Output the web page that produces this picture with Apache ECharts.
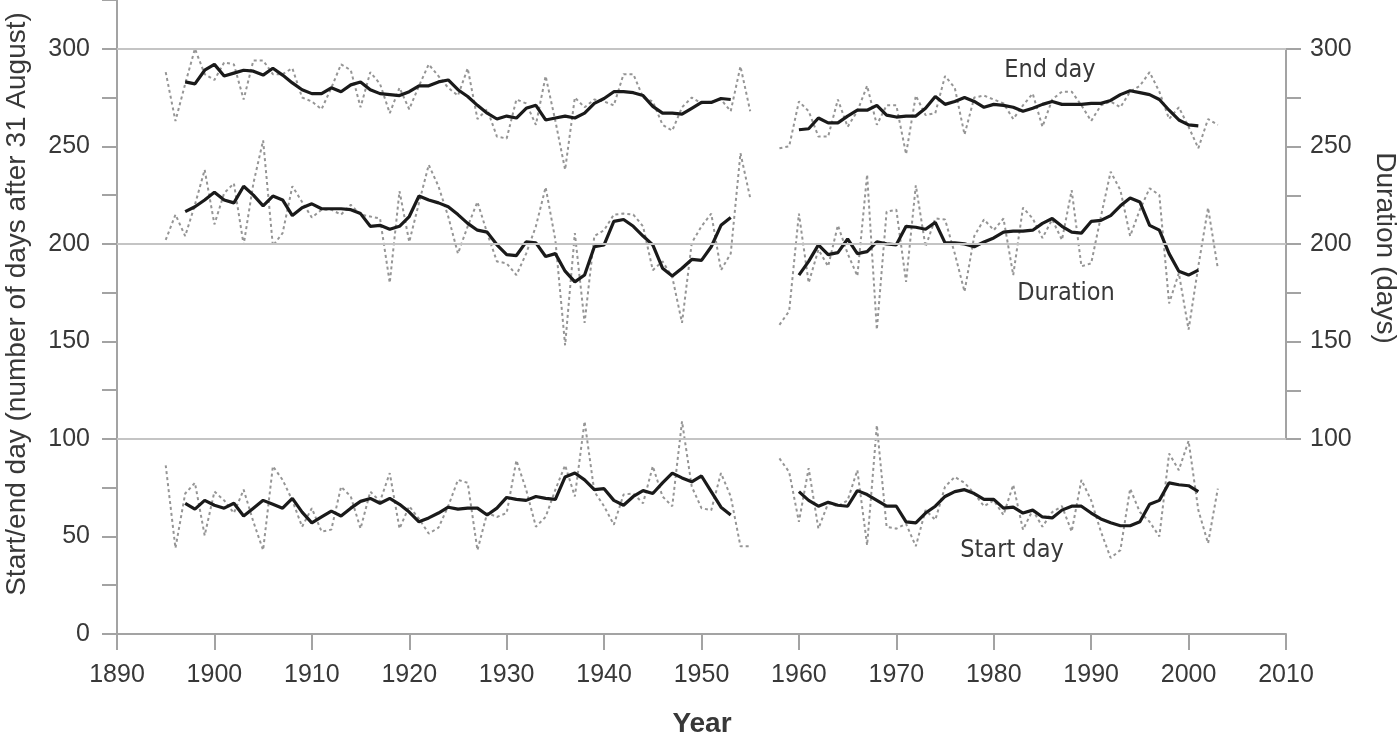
<!DOCTYPE html>
<html>
<head>
<meta charset="utf-8">
<script src="https://cdn.jsdelivr.net/npm/echarts@6/dist/echarts.min.js"></script>
<style>html,body{margin:0;padding:0;background:#fff}#c{width:1400px;height:735px}</style>
</head>
<body>
<div id="c"></div>
<script>
const years = [1895,1896,1897,1898,1899,1900,1901,1902,1903,1904,1905,1906,1907,1908,1909,1910,1911,1912,1913,1914,
1915,1916,1917,1918,1919,1920,1921,1922,1923,1924,1925,1926,1927,1928,1929,1930,1931,1932,1933,1934,
1935,1936,1937,1938,1939,1940,1941,1942,1943,1944,1945,1946,1947,1948,1949,1950,1951,1952,1953,1954,
1955,1956,1957,1958,1959,1960,1961,1962,1963,1964,1965,1966,1967,1968,1969,1970,1971,1972,1973,1974,
1975,1976,1977,1978,1979,1980,1981,1982,1983,1984,1985,1986,1987,1988,1989,1990,1991,1992,1993,1994,
1995,1996,1997,1998,1999,2000,2001,2002,2003];

const endAnnual = [288,263,282,300,287,284,293,292,274,294,
294,287,287,290,275,273,269,280,292,289,
270,288,282,267,280,269,281,292,286,280,
276,290,264,269,255,254,274,272,261,286,
263,238,275,270,274,273,271,287,287,275,
273,261,258,270,275,272,273,274,268,291,
268,null,null,
249,250,273,268,255,255,274,260,268,281,
261,271,271,246,276,266,267,286,280,256,
275,276,274,272,264,271,277,260,274,278,
278,271,263,271,273,270,278,281,288,278,
264,270,260,249,264,261];

const endSmooth = [null,null,283,282,289,292,286,287.5,289,288.5,
286.5,290,286.5,282.5,279,277,277,280,278,281.5,
283,279,277,276.5,276,278,281,281,283,284,
279,275.5,271,267,264,265.5,264.5,269.5,271,263.5,
264.5,265.5,264.5,267,272,274.5,278,278,277.5,276,
270.5,267,267,266.5,269.5,272.5,272.5,274.5,274,null,
null,null,null,null,null,
258.5,259,264.5,262,262,265.5,268.5,268.5,271,266,
265,265.5,265.5,269.5,275.5,271.5,273,275,273,270,
271.5,271,270,268,269.5,271.5,273,271.5,271.5,271.5,
272,272,273.5,276.5,278.5,277.5,276.5,274,268.5,263.5,
261,260.5,null,null];

const durAnnual = [202,215,204,220,238,210,226,231,199.5,231,
253,199,205.5,229.5,221.5,213.5,217.5,217.5,215,220,
215,214,213,180,227,201,221,240.5,229.5,214,
195,209,221.5,205.5,191,190,184,195,209,229,
202,148,205.5,159.5,204,207,215,215.5,215,209,
186.5,191,183,159.5,200.5,209,215.5,186.5,195,246.5,
223.5,null,null,
158.5,165.5,215.5,180,197,188.5,209.5,195,183.5,235.5,
156,216.5,217.5,180.5,230,198.5,213,212.5,195,175.5,
204,212.5,207,213,184,218.5,213,203,212.5,202,
227.5,188.5,190,214,237,227.5,204,217.5,228.5,225,
169.5,185,156,188.5,218.5,187.5];

const durSmooth = [null,null,216.5,219,222.5,226.5,222.5,221,229.5,225,
219.5,224.5,222.5,214.5,218.5,220.5,218,218,218,217.5,
215.5,209,209.5,207.5,209,214,224.5,222.5,221,219,
215,210.5,207,206,199.5,194.5,194,201,200.5,193.5,
195,186,180.5,184,198.5,199.5,211.5,212.5,209,204,
199.5,187.5,183.5,187.5,192,191.5,198.5,209.5,213.5,null,
null,null,null,null,null,
184,191,199.5,194.5,195.5,202.5,195,196,201,200,
199.5,209,208.5,207.5,211,200.5,200.5,200,198.5,201,
203,206,206.5,206.5,207,210.5,213,209,206,205.5,
211.5,212,214.5,219.5,223.5,221.5,209.5,207,195,186,
184,186.5,null,null];

const startAnnual = [86.5,44,72,77.5,50.5,73,68.5,62,74,57.5,
43,86,79,68.5,55,64.5,52.5,53.5,75.5,70.5,
54,73,68,82.5,54,65.5,59,51.5,54.5,65.5,
79,77.5,43,62,60,62,89,74,55,60,
74,86.5,70.5,109,73,65.5,56,71.5,72,67,
86,70.5,65.5,109,75.5,64.5,63.5,82.5,70.5,45,
45,null,null,
90,83,57.5,85,54,67,65.5,68.5,84,45.5,
107,55,54,56.5,45,63.5,58.5,75.5,80.5,77.5,
72,65.5,68.5,61,76.5,53.5,63.5,55,62.5,65.5,
52.5,79,68.5,52.5,39,43,74.5,62.5,57.5,50,
92.5,84,99,63.5,46.5,74.5];

const startSmooth = [null,null,67,64,68.5,66,64.5,67,60.5,64.5,
68.5,66.5,64.5,69.5,62.5,57,60,63,60.5,64.5,
68,69.5,67,69.5,66.5,62.5,57.5,59.5,62,65,
64,64.5,64.5,61,64.5,70,69,68.5,70.5,69.5,
69,80.5,82.5,79,74,74.5,68.5,66,70.5,73.5,
72,77.5,82.5,80,78,81,73,65,61,null,
null,null,null,null,null,
73,68.5,65.5,67.5,66,65.5,73.5,71.5,68.5,65.5,
65.5,57.5,57,62,65.5,70.5,73,74,72,69,
69,64.5,65,62,63.5,60,59.5,63.5,65.5,65.5,
62,59,57,55.5,55.5,57.5,66.5,68.5,77.5,76.5,
76,73,null,null];

const xTicks = [1890, 2010, 10];
const gridValues = [100, 200, 300];
const seriesLabels = ['End day', 'Duration', 'Start day'];
const leftTitle = 'Start/end day (number of days after 31 August)';
const rightTitle = 'Duration (days)';
const xTitle = 'Year';

function pairs(arr){ return years.map((y,i)=>[y, arr[i]==null ? '-' : arr[i]]); }

const axisGray = '#a3a3a3';
const textCol = '#383838';
const tickFont = 'Liberation Sans, Arial, sans-serif';
const narrowFont = '"Liberation Sans Narrow", "DejaVu Sans Condensed", sans-serif';

function dotted(name, arr){
  return {name:name, type:'line', xAxisIndex:0, yAxisIndex:0, data:pairs(arr), showSymbol:false, symbol:'none',
    connectNulls:false, z:3, silent:true,
    lineStyle:{color:'#959595', width:2, type:[3,3]}};
}
function solid(name, arr){
  return {name:name, type:'line', xAxisIndex:0, yAxisIndex:0, data:pairs(arr), showSymbol:false, symbol:'none',
    connectNulls:false, z:4, silent:true,
    lineStyle:{color:'#1a1a1a', width:3.2}};
}

const chart = echarts.init(document.getElementById('c'), null, {renderer:'canvas'});
chart.setOption({
  animation:false,
  backgroundColor:'#fff',
  grid:[
    {left:117, right:114, top:0, bottom:101},
    {left:117, right:114, top:49, bottom:296}
  ],
  xAxis:[
    {type:'value', gridIndex:0, min:xTicks[0], max:xTicks[1], interval:xTicks[2],
     axisLine:{show:true, lineStyle:{color:axisGray, width:2}},
     axisTick:{show:true, length:16, lineStyle:{color:axisGray, width:2}},
     axisLabel:{fontSize:25, color:textCol, fontFamily:tickFont, margin:29,
       formatter:function(v){ return String(v); }},
     splitLine:{show:false}},
    {type:'value', gridIndex:1, min:xTicks[0], max:xTicks[1], show:false}
  ],
  yAxis:[
    {type:'value', gridIndex:0, min:0, max:325, interval:25,
     axisLine:{show:true, lineStyle:{color:axisGray, width:2}},
     axisTick:{show:true, length:15, lineStyle:{color:axisGray, width:2}},
     axisLabel:{fontSize:25, color:textCol, fontFamily:tickFont, margin:27,
       formatter:function(v){ return (v%50===0 && v<=300) ? String(v) : ''; }},
     splitLine:{show:false}},
    {type:'value', gridIndex:1, position:'right', min:100, max:300, interval:25,
     axisLine:{show:true, lineStyle:{color:axisGray, width:2}},
     axisTick:{show:true, length:15, lineStyle:{color:axisGray, width:2}},
     axisLabel:{fontSize:25, color:textCol, fontFamily:tickFont, margin:24,
       formatter:function(v){ return (v%50===0) ? String(v) : ''; }},
     splitLine:{show:false}}
  ],
  series:[
    {type:'line', xAxisIndex:0, yAxisIndex:0, data:[], silent:true, z:1,
     markLine:{silent:true, symbol:['none','none'], label:{show:false},
       lineStyle:{color:'#c4c4c4', width:2, type:'solid'},
       data: gridValues.map(v=>({yAxis:v}))}},
    dotted('End day annual', endAnnual),
    dotted('Duration annual', durAnnual),
    dotted('Start day annual', startAnnual),
    solid('End day smoothed', endSmooth),
    solid('Duration smoothed', durSmooth),
    solid('Start day smoothed', startSmooth)
  ],
  graphic:[
    {type:'text', x:1050, y:70, silent:true, style:{text:seriesLabels[0], fontSize:25, fontFamily:narrowFont, fill:textCol, textAlign:'center', textVerticalAlign:'middle', verticalAlign:'middle'}},
    {type:'text', x:1066, y:293, silent:true, style:{text:seriesLabels[1], fontSize:25, fontFamily:narrowFont, fill:textCol, textAlign:'center', textVerticalAlign:'middle', verticalAlign:'middle'}},
    {type:'text', x:1012, y:550, silent:true, style:{text:seriesLabels[2], fontSize:25, fontFamily:narrowFont, fill:textCol, textAlign:'center', textVerticalAlign:'middle', verticalAlign:'middle'}},
    {type:'text', x:17, y:304, rotation:Math.PI/2, silent:true, style:{text:leftTitle, fontSize:28, fontFamily:tickFont, fill:textCol, textAlign:'center', textVerticalAlign:'middle', verticalAlign:'middle'}},
    {type:'text', x:1385, y:248, rotation:-Math.PI/2, silent:true, style:{text:rightTitle, fontSize:28, fontFamily:tickFont, fill:textCol, textAlign:'center', textVerticalAlign:'middle', verticalAlign:'middle'}},
    {type:'text', x:702, y:724, silent:true, style:{text:xTitle, fontSize:28, fontWeight:'bold', fontFamily:tickFont, fill:textCol, textAlign:'center', textVerticalAlign:'middle', verticalAlign:'middle'}}
  ]
});
</script>
</body>
</html>
